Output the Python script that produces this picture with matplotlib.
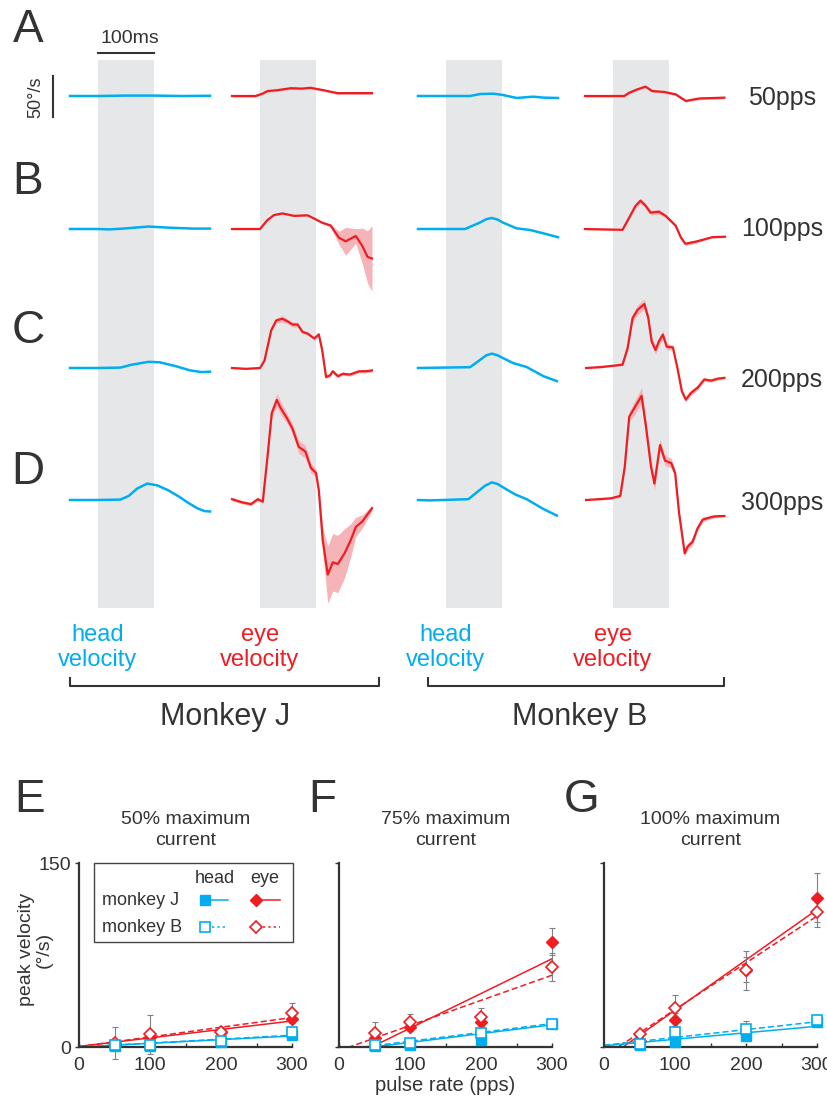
import numpy as np
import matplotlib.pyplot as plt
from matplotlib.patches import Rectangle

plt.rcParams['font.family'] = ['Liberation Sans', 'DejaVu Sans']

BLUE = '#00AEEF'
RED = '#EE1D23'
SHADE = '#F5B5B8'
BAND = '#E6E7E8'
DARK = '#333333'
W, H = 827, 1104

rates = ['50pps', '100pps', '200pps', '300pps']
row_letters = ['A', 'B', 'C', 'D']

# ---- velocity traces: time (ms from stim onset), velocity (deg/s) ----
headJ_t = [[-50, 0, 50, 100, 150, 200],
           [-50, 0, 20, 45, 90, 130, 170, 200],
           [-50, 0, 40, 60, 90, 110, 140, 165, 185, 200],
           [-50, 0, 40, 55, 70, 88, 105, 125, 145, 160, 177, 190, 200]]
headJ_v = [[0, 0, 0.5, 0.5, 0, 0.3],
           [0, 0, -0.5, 0.5, 3, 1.5, 0.5, 0.5],
           [0, 0, 0.5, 4, 7.5, 7, 2, -3, -5, -4.5],
           [0, 0, 0.5, 5, 14, 20, 18, 12, 4, -3, -10, -13.5, -14]]

eyeJ_t = [[-50, -8, 5, 13, 30, 55, 75, 90, 114, 138, 170, 200],
          [-50, 0, 13, 25, 40, 61, 85, 99, 111, 126, 141, 153, 171, 183, 192, 200],
          [-50, -25, 0, 8, 20, 29, 40, 49, 58, 67, 76, 85, 97, 105, 111, 118, 125, 130, 139, 148, 160, 177, 189, 200],
          [-50, -31, -16, -4, 5, 14, 21, 30, 37, 48, 58, 69, 81, 91, 100, 105, 112, 121, 130, 139, 151, 162, 171, 183, 200]]
eyeJ_v = [[0, 0, 3, 6, 7, 9.5, 9, 10, 7, 3.5, 3.5, 3.5],
          [0, 0, 10.7, 17, 19, 16, 16.7, 12, 7.7, 4.3, -10.7, -15, -8.5, -21, -34, -36],
          [0, -1, 0, 9, 46, 58, 60, 57, 53, 53, 44, 42, 36, 41, 22, -11, -9, -4, -10, -7, -8, -4, -4, -3],
          [1, -3, -5, 1, -2, 57, 106, 122, 112, 100, 87, 65, 59, 39, 33, 12, -49, -91, -76, -78, -65, -49, -33, -26, -10]]
eyeJ_sem = [[1.5, 1.5, 1.5, 1.5, 1.5, 1.5, 1.5, 1.5, 1.5, 1.5, 1.5, 1.5],
            [1, 1, 1, 1, 1, 1, 1, 1, 1, 2, 8, 17, 9, 22, 32, 40],
            [1, 1, 1, 1, 2, 3, 4, 3, 3, 3, 2, 2, 2, 2, 2, 2, 2, 2, 2, 2, 2, 2, 2, 2],
            [2, 2, 2, 2, 2, 4, 6, 8, 8, 6, 6, 8, 8, 6, 5, 5, 15, 35, 35, 35, 30, 20, 12, 8, 3]]

headB_t = [[-50, 43, 61, 85, 102, 126, 156, 174, 200],
           [-50, 34, 61, 72, 82, 92, 102, 126, 150, 174, 200],
           [-50, 43, 61, 72, 82, 92, 102, 120, 144, 174, 198],
           [-50, -29, 40, 58, 70, 82, 92, 102, 123, 144, 174, 198]]
headB_v = [[0, 0, 2.4, 2.8, 1.2, -2.4, -0.8, -2, -2.4],
           [0, 0, 8, 12, 13.4, 11.5, 7.7, 0.8, -1.2, -5.3, -10],
           [0, 1, 10, 15.5, 17.5, 15.5, 12, 6, 1.2, -10, -16],
           [0, -0.5, 1, 11, 17.5, 21.5, 19.5, 15.4, 7, 1, -11, -19]]

eyeB_t = [[-50, 20, 29, 43, 58, 70, 91, 112, 121, 130, 154, 199],
          [-50, 17, 29, 40, 49, 58, 67, 82, 94, 112, 121, 129, 148, 177, 200],
          [-48, -21, 17, 26, 35, 44, 56, 63, 69, 76, 82, 89, 96, 107, 115, 123, 130, 139, 151, 163, 175, 187, 199],
          [-48, -4, 13, 21, 29, 38, 51, 59, 68, 74, 84, 93, 104, 111, 118, 128, 133, 142, 151, 160, 169, 181, 199]]
eyeB_v = [[0, 0, 4, 8, 11.4, 6, 5, 2, -2, -6, -3, -2],
          [0, -1, 14, 28, 34.5, 28.5, 20, 21, 16, 4, -10, -18, -15.4, -10, -9.4],
          [0, 1.2, 4, 24, 61, 71, 78, 61, 32.5, 22, 32.5, 40.6, 26, 25, 0, -28.5, -38.6, -30.5, -24, -14, -15.4, -13, -12],
          [0, 2, 5, 40.6, 101.6, 112, 127, 89, 40, 20, 67, 48, 45, 32.5, -16, -65, -57, -51, -34.5, -24, -22, -20, -19.5]]
eyeB_sem = [[1.5, 1.5, 1.5, 1.5, 1.5, 1.5, 1.5, 1.5, 1.5, 1.5, 1.5, 1.5],
            [1, 1, 2, 3, 3, 3, 3, 3, 2, 2, 2, 2, 2, 1, 1],
            [1, 1, 1, 3, 5, 6, 6, 5, 5, 5, 5, 5, 4, 3, 3, 3, 3, 3, 3, 2, 2, 2, 1],
            [1, 1, 2, 4, 6, 8, 10, 8, 8, 8, 7, 6, 6, 4, 4, 4, 4, 4, 3, 3, 2, 2, 1]]

# ---- peak velocity vs pulse rate (panels E, F, G) ----
pulse = [50, 100, 200, 300]
panel_letters = ['E', 'F', 'G']
panel_titles = ['50% maximum', '75% maximum', '100% maximum']
headJ_peak = [[1, 1, 4, 10], [1, 2, 5.5, 19], [2, 4.4, 8.8, 20.5]]
headB_peak = [[2, 1.6, 5, 12.3], [2, 3.3, 11.7, 18.8], [2.2, 12.3, 15, 22.4]]
eyeJ_peak = [[2, 8, 12, 22.7], [7, 16.4, 20, 85.9], [5, 22.4, 63, 121.8]]
eyeB_peak = [[3, 10.4, 12.3, 28], [11.7, 20.5, 24.5, 65.5], [10.4, 31.5, 62.4, 110]]
headJ_err = [[1, 1, 1, 1], [0.5, 0.5, 1, 1], [1, 1, 3, 2]]
headB_err = [[1, 1, 1, 1], [0.5, 0.5, 1, 1], [1, 1, 6, 2]]
eyeJ_err = [[2, 3, 3, 3], [3, 3, 3, 11], [2, 5, 10, 20]]
eyeB_err = [[13, 16, 4, 8], [9, 6.5, 7.5, 11.5], [3, 10.5, 16, 12]]
# regression lines: (intercept, slope)
headJ_fit = [(0, 0.030), (-3.5, 0.072), (1.0, 0.053)]
headB_fit = [(0, 0.032), (-2.5, 0.072), (1.4, 0.064)]
eyeJ_fit = [(0.5, 0.069), (-13, 0.283), (-11, 0.41)]
eyeB_fit = [(0.3, 0.079), (-3, 0.205), (-7.6, 0.381)]


def px_rect(left, top, width, height):
    return [left / W, 1 - (top + height) / H, width / W, height / H]


fig = plt.figure(figsize=(8.27, 11.04), dpi=100)

# ---- traces ----
px_per_ms = 0.56
px_per_dps = 0.82
band_top, band_bot = 60, 608
row_base = [96, 229, 368, 500]
col_left = [70, 232, 418, 585]
columns = [(headJ_t, headJ_v, None, BLUE), (eyeJ_t, eyeJ_v, eyeJ_sem, RED),
           (headB_t, headB_v, None, BLUE), (eyeB_t, eyeB_v, eyeB_sem, RED)]

trace_axes = []
for c, (ts, vs, sems, color) in enumerate(columns):
    ax = fig.add_axes(px_rect(col_left[c], band_top, 250 * px_per_ms, band_bot - band_top))
    ax.set_xlim(-50, 200)
    ax.set_ylim(-(band_bot - band_top) / px_per_dps, 0)
    ax.axvspan(0, 100, color=BAND, lw=0, zorder=0)
    ax.axis('off')
    for r in range(4):
        off = -(row_base[r] - band_top) / px_per_dps
        t = np.array(ts[r])
        v = np.array(vs[r]) + off
        if sems is not None:
            s = np.array(sems[r])
            ax.fill_between(t, v - s, v + s, color=SHADE, lw=0, zorder=1, clip_on=False)
            ax.plot(t, v, color=color, lw=1.6, zorder=2, clip_on=False)
        else:
            ax.plot(t, v, color=color, lw=1.8, zorder=2, clip_on=False)
    trace_axes.append(ax)

# scale bars (100 ms, 50 deg/s)
ax0 = trace_axes[0]
bar_y = (band_top - 53) / px_per_dps
ax0.plot([0, 100], [bar_y, bar_y], color=DARK, lw=1.5, clip_on=False)
v_top = -(76 - band_top) / px_per_dps
ax0.plot([-80, -80], [v_top, v_top - 50], color=DARK, lw=1.5, clip_on=False)

# ---- peak velocity panels ----
panel_left = [79, 339, 604]
for p in range(3):
    ax = fig.add_axes(px_rect(panel_left[p], 863, 213, 184))
    ax.set_facecolor('none')
    ax.set_xlim(0, 300)
    ax.set_ylim(0, 150)
    for side in ['top', 'right']:
        ax.spines[side].set_visible(False)
    for side in ['left', 'bottom']:
        ax.spines[side].set_color(DARK)
        ax.spines[side].set_linewidth(1.6)
    ax.set_xticks([0, 100, 200, 300])
    ax.set_xticks([50, 150, 250], minor=True)
    ax.tick_params(axis='x', which='both', direction='in', length=3, width=1,
                   color=DARK, labelsize=14, labelcolor=DARK, pad=7)
    ax.set_yticks([0, 150])
    ax.tick_params(axis='y', direction='out', length=3, width=1, color=DARK,
                   labelsize=14, labelcolor=DARK, pad=3)
    if p == 0:
        ax.set_yticklabels(['0', '150'])
        ax.set_ylabel('peak velocity\n(°/s)', fontsize=14, color=DARK, linespacing=1.0)
        ax.yaxis.set_label_coords(-0.125, 0.53)
    else:
        ax.set_yticklabels([])
    if p == 1:
        ax.set_xlabel('pulse rate (pps)', fontsize=14.5, color=DARK)
        ax.xaxis.set_label_coords(0.5, -0.155)

    xs = np.array([0, 300])
    a, b = eyeB_fit[p]
    ax.plot(xs, a + b * xs, color=RED, lw=1.1, ls=(0, (4, 2)), zorder=2)
    a, b = eyeJ_fit[p]
    ax.plot(xs, a + b * xs, color=RED, lw=1.1, zorder=2)
    a, b = headB_fit[p]
    ax.plot(xs, a + b * xs, color=BLUE, lw=1.1, ls=(0, (4, 2)), zorder=2)
    a, b = headJ_fit[p]
    ax.plot(xs, a + b * xs, color=BLUE, lw=1.1, zorder=2)

    for vals, errs in [(eyeJ_peak[p], eyeJ_err[p]), (eyeB_peak[p], eyeB_err[p]),
                       (headJ_peak[p], headJ_err[p]), (headB_peak[p], headB_err[p])]:
        ax.errorbar(pulse, vals, yerr=errs, fmt='none', ecolor='#808080',
                    elinewidth=0.8, capsize=2, capthick=0.8, zorder=3, clip_on=False)
    ax.plot(pulse, eyeJ_peak[p], 'D', ms=6.5, color=RED, mec=RED, zorder=4, clip_on=False)
    ax.plot(pulse, eyeB_peak[p], 'D', ms=6.5, mfc='white', mec=RED, mew=1.2, zorder=5, clip_on=False)
    ax.plot(pulse, headJ_peak[p], 's', ms=7, color=BLUE, mec=BLUE, zorder=6, clip_on=False)
    ax.plot(pulse, headB_peak[p], 's', ms=7, mfc='white', mec=BLUE, mew=1.2, zorder=7, clip_on=False)

    cx = panel_left[p] + 213 / 2
    fig.text(cx / W, 1 - 824 / H, panel_titles[p], ha='center', va='baseline',
             fontsize=14, color=DARK)
    fig.text(cx / W, 1 - 845 / H, 'current', ha='center', va='baseline',
             fontsize=14, color=DARK)

# ---- overlay for labels, brackets and legend (pixel coordinates) ----
ov = fig.add_axes([0, 0, 1, 1])
ov.set_xlim(0, W)
ov.set_ylim(H, 0)
ov.axis('off')
ov.patch.set_alpha(0)

letter_y = [30, 182, 331, 472]
for r in range(4):
    ov.text(28, letter_y[r], row_letters[r], ha='center', va='center', fontsize=33, color=DARK)
for p, x in enumerate([30, 322, 582]):
    ov.text(x, 800, panel_letters[p], ha='center', va='center', fontsize=33, color=DARK)

rate_base = [105, 236, 387, 510]
for r in range(4):
    ov.text(782, rate_base[r], rates[r], ha='center', va='baseline', fontsize=18, color=DARK)

ov.text(130, 43, '100ms', ha='center', va='baseline', fontsize=14, color=DARK)
ov.text(44, 97, '50°/s', ha='right', va='center', rotation=90, fontsize=13, color=DARK)

band_centers = [col_left[c] + 50 * px_per_ms for c in range(4)]
for c in range(4):
    color = BLUE if c % 2 == 0 else RED
    word = 'head' if c % 2 == 0 else 'eye'
    ov.text(band_centers[c], 641, word, ha='center', va='baseline', fontsize=17, color=color)
    ov.text(band_centers[c], 666, 'velocity', ha='center', va='baseline', fontsize=17, color=color)

for x0, x1, name, cx in [(70, 379, 'Monkey J', 225), (428, 724, 'Monkey B', 580)]:
    ov.plot([x0, x0, x1, x1], [678, 686, 686, 678], color=DARK, lw=1.5)
    ov.text(cx, 725, name, ha='center', va='baseline', fontsize=22, color=DARK)

# legend of panel E
ov.add_patch(Rectangle((94, 863), 199, 79, fc='white', ec='#444444', lw=1, zorder=5))
ov.text(215, 883, 'head', ha='center', va='baseline', fontsize=13, color=DARK, zorder=6)
ov.text(265, 883, 'eye', ha='center', va='baseline', fontsize=13, color=DARK, zorder=6)
ov.text(102, 905, 'monkey J', ha='left', va='baseline', fontsize=13, color=DARK, zorder=6)
ov.text(102, 932, 'monkey B', ha='left', va='baseline', fontsize=13, color=DARK, zorder=6)
ov.plot([205], [900], 's', ms=7, color=BLUE, zorder=7)
ov.plot([211, 228], [900, 900], color=BLUE, lw=1.1, zorder=7)
ov.plot([256], [900], 'D', ms=6.5, color=RED, zorder=7)
ov.plot([263, 280], [900, 900], color=RED, lw=1.1, zorder=7)
ov.plot([205], [927], 's', ms=7, mfc='white', mec=BLUE, mew=1.2, zorder=7)
ov.plot([212, 228], [927, 927], color=BLUE, lw=1.1, ls=(0, (1.5, 2)), zorder=7)
ov.plot([256], [927], 'D', ms=6.5, mfc='white', mec=RED, mew=1.2, zorder=7)
ov.plot([263, 280], [927, 927], color=RED, lw=1.1, ls=(0, (1.5, 2)), zorder=7)

fig.savefig('out.png', dpi=100)
